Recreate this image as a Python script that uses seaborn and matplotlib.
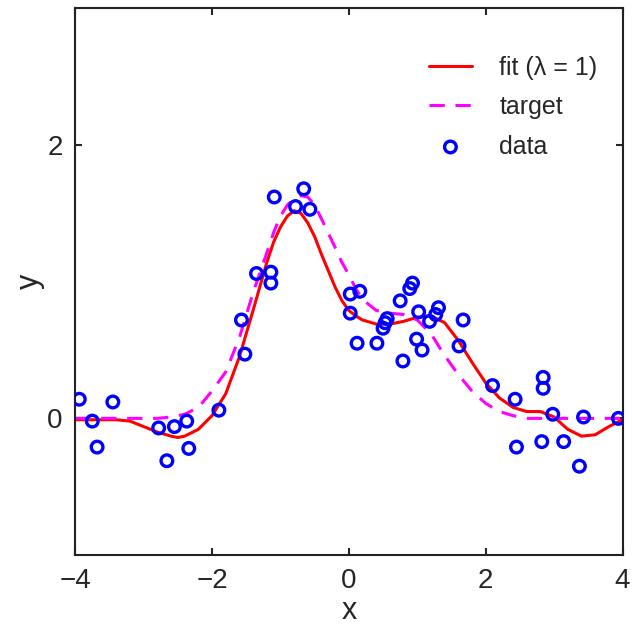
import numpy as np
import pandas as pd
import matplotlib
matplotlib.use("Agg")
import matplotlib.pyplot as plt
import seaborn as sns

# ---- data ----
x_data = [-3.94, -3.75, -3.68, -3.45, -2.78, -2.66, -2.55, -2.37, -2.34, -1.90,
          -1.57, -1.52, -1.35, -1.14, -1.14, -1.09, -0.78, -0.66, -0.57,
          0.02, 0.02, 0.16, 0.12, 0.41, 0.50, 0.53, 0.56, 0.75, 0.79, 0.89,
          0.93, 0.99, 1.02, 1.07, 1.18, 1.27, 1.31, 1.61, 1.67, 2.10,
          2.43, 2.45, 2.82, 2.84, 2.84, 2.98, 3.14, 3.37, 3.43, 3.94]
y_data = [0.14, -0.02, -0.21, 0.12, -0.07, -0.31, -0.06, -0.02, -0.22, 0.06,
          0.72, 0.47, 1.06, 1.07, 0.99, 1.62, 1.55, 1.68, 1.53,
          0.91, 0.77, 0.93, 0.55, 0.55, 0.66, 0.70, 0.73, 0.86, 0.42, 0.95,
          0.99, 0.58, 0.78, 0.50, 0.71, 0.76, 0.81, 0.53, 0.72, 0.24,
          0.14, -0.21, -0.17, 0.30, 0.22, 0.03, -0.17, -0.35, 0.01, 0.00]

x_curve = [-4.0, -3.8, -3.6, -3.4, -3.2, -3.0, -2.8, -2.6, -2.5, -2.4, -2.2,
           -2.0, -1.8, -1.6, -1.4, -1.2, -1.1, -1.0, -0.9, -0.8, -0.7, -0.6,
           -0.5, -0.4, -0.2, -0.1,
           0.0, 0.1, 0.2, 0.4, 0.6, 0.8, 1.0, 1.2, 1.4, 1.6, 1.8,
           2.0, 2.2, 2.4, 2.6, 2.8, 3.0, 3.2, 3.4, 3.6, 3.8, 4.0]
y_fit = [-0.01, -0.01, -0.01, -0.01, -0.02, -0.06, -0.10, -0.13, -0.14, -0.13, -0.08,
         0.02, 0.18, 0.45, 0.79, 1.14, 1.29, 1.40, 1.48, 1.52, 1.50, 1.43,
         1.33, 1.20, 0.96, 0.86,
         0.79, 0.75, 0.72, 0.69, 0.69, 0.71, 0.74, 0.75, 0.70, 0.57, 0.41,
         0.26, 0.15, 0.08, 0.05, 0.05, 0.01, -0.08, -0.13, -0.12, -0.06, -0.01]
y_target = [0.00, 0.00, 0.00, 0.00, 0.00, 0.00, 0.00, 0.01, 0.02, 0.03, 0.08,
            0.20, 0.34, 0.59, 0.92, 1.21, 1.36, 1.48, 1.56, 1.61, 1.63, 1.62,
            1.56, 1.46, 1.25, 1.14,
            1.05, 0.95, 0.87, 0.79, 0.77, 0.76, 0.72, 0.62, 0.46, 0.32, 0.20,
            0.11, 0.05, 0.02, 0.00, 0.00, 0.00, 0.00, 0.00, 0.00, 0.00, 0.00]

x_ticks = [-4, -2, 0, 2, 4]
y_ticks = [0, 2]

sns.set_style("ticks")
plt.rcParams["font.family"] = ["Liberation Sans", "DejaVu Sans"]

fig = plt.figure(figsize=(6.32, 6.29), dpi=100)
ax = fig.add_axes([0.119, 0.1176, 0.866, 0.869])

curves = pd.DataFrame({"x": x_curve, "fit": y_fit, "target": y_target})
pts = pd.DataFrame({"x": x_data, "y": y_data})

sns.lineplot(data=curves, x="x", y="fit", ax=ax, color="#ff0000", lw=2.2,
             label="fit (\u03bb = 1)", sort=False)
sns.lineplot(data=curves, x="x", y="target", ax=ax, color="#ff00ff", lw=2.2,
             label="target", sort=False)
ax.lines[-1].set_dashes((5, 3.5))
sns.scatterplot(data=pts, x="x", y="y", ax=ax, marker="o", s=70,
                facecolor="none", edgecolor="#0000ff", linewidth=2.4,
                label="data", zorder=5)

ax.set_xlim(-4, 4)
ax.set_ylim(-1, 3)
ax.set_xticks(x_ticks)
ax.set_yticks(y_ticks)
ax.set_xticklabels(["\u22124", "\u22122", "0", "2", "4"])
ax.tick_params(direction="in", length=5, width=1.5, labelsize=20, top=True, right=True, pad=9)
for s in ax.spines.values():
    s.set_linewidth(1.5)
    s.set_color("#222222")
ax.set_xlabel("x", fontsize=22, labelpad=2)
ax.set_ylabel("y", fontsize=22, labelpad=2)

leg = ax.legend(loc="upper right", frameon=False, fontsize=18,
                handlelength=1.7, handletextpad=1.1, labelspacing=0.62,
                bbox_to_anchor=(0.995, 0.955))

fig.savefig("out.png", dpi=100)
